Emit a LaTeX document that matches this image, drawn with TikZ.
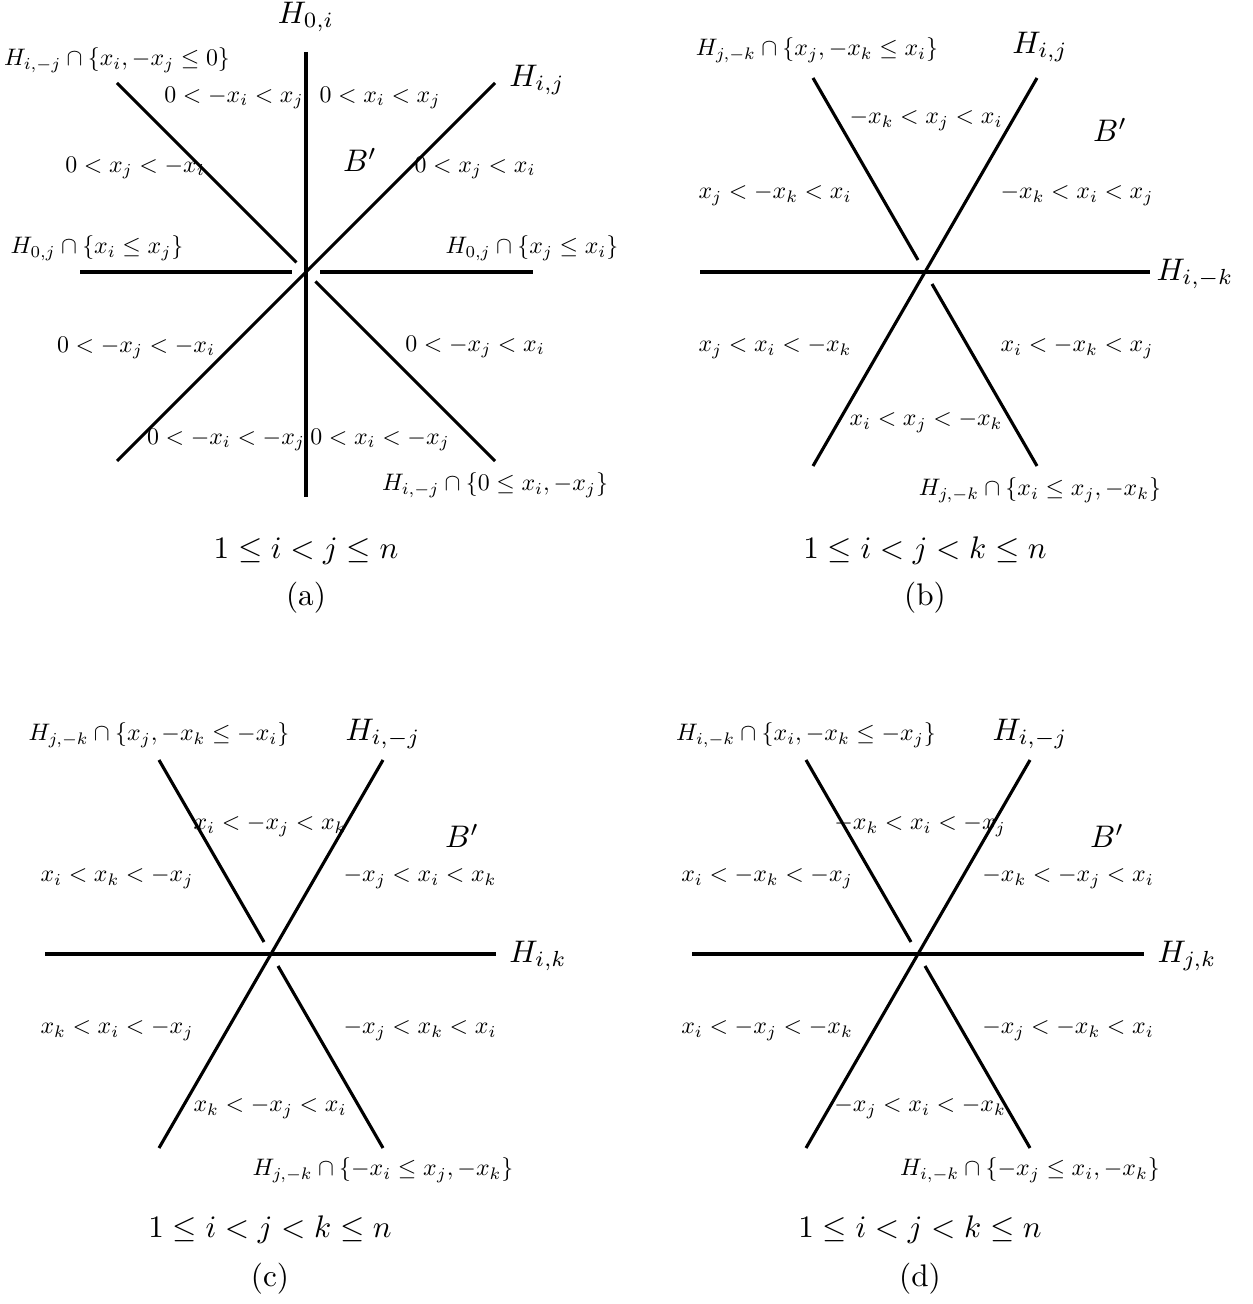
\documentclass[tikz,border=0pt]{standalone}
\begin{document}
\begin{tikzpicture}[x=0.3205pt,y=-0.3205pt,
  ln/.style={line width=1pt},
  sm/.style={font=\normalsize, inner sep=0pt, scale=0.765},
  lg/.style={font=\normalsize, inner sep=0pt}]
\useasboundingbox (0,0) rectangle (1252,1304);

% ---------------- panel (a) ----------------
\coordinate (aVt) at (306,52);  \coordinate (aVb) at (306,497);
\coordinate (aDt) at (495,83);  \coordinate (aDb) at (117,461);
\coordinate (aAt) at (117,83);  \coordinate (aAm) at (296.5,262.5);
\coordinate (aAn) at (315.5,281.5); \coordinate (aAb) at (495,461);
\coordinate (aHl) at (80,272);  \coordinate (aHm) at (292,272);
\coordinate (aHn) at (320,272); \coordinate (aHr) at (533,272);
\draw[ln] (aVt) -- (aVb);
\draw[ln] (aDt) -- (aDb);
\draw[ln] (aAt) -- (aAm);
\draw[ln] (aAn) -- (aAb);
\draw[ln] (aHl) -- (aHm);
\draw[ln] (aHn) -- (aHr);

\node[lg] (aH0i) at (306,17) {$H_{0,i}$};
\node[lg] (aHij) at (537,80) {$H_{i,j}$};
\node[lg] (aB) at (360,160) {$B'$};
\node[sm] (aL1) at (117,60) {$H_{i,-j}\cap\{x_i,-x_j\le 0\}$};
\node[sm] (aL2) at (234,98) {$0<-x_i<x_j$};
\node[sm] (aL3) at (380,98) {$0<x_i<x_j$};
\node[sm] (aL4) at (135,168) {$0<x_j<-x_i$};
\node[sm] (aL5) at (475,168) {$0<x_j<x_i$};
\node[sm] (aL6) at (97,248) {$H_{0,j}\cap\{x_i\le x_j\}$};
\node[sm] (aL7) at (532,248) {$H_{0,j}\cap\{x_j\le x_i\}$};
\node[sm] (aL8) at (136,348) {$0<-x_j<-x_i$};
\node[sm] (aL9) at (475,347) {$0<-x_j<x_i$};
\node[sm] (aL10) at (226,440) {$0<-x_i<-x_j$};
\node[sm] (aL11) at (380,440) {$0<x_i<-x_j$};
\node[sm] (aL12) at (495,485) {$H_{i,-j}\cap\{0\le x_i,-x_j\}$};
\node[lg] (aC) at (306,551) {$1\le i<j\le n$};
\node[lg] (aT) at (306,598) {(a)};

% ---------------- panel (b) ----------------
\coordinate (bPt) at (1037,78);  \coordinate (bPb) at (813,466);
\coordinate (bQt) at (813,78);   \coordinate (bQm) at (918,260);
\coordinate (bQn) at (932,284);  \coordinate (bQb) at (1037,466);
\coordinate (bHl) at (700,272);  \coordinate (bHr) at (1150,272);
\draw[ln] (bPt) -- (bPb);
\draw[ln] (bQt) -- (bQm);
\draw[ln] (bQn) -- (bQb);
\draw[ln] (bHl) -- (bHr);

\node[sm] (bL1) at (817,50) {$H_{j,-k}\cap\{x_j,-x_k\le x_i\}$};
\node[lg] (bHij) at (1040,47) {$H_{i,j}$};
\node[sm] (bL2) at (926,120) {$-x_k<x_j<x_i$};
\node[lg] (bB) at (1110,130) {$B'$};
\node[sm] (bL3) at (775,195) {$x_j<-x_k<x_i$};
\node[sm] (bL4) at (1077,195) {$-x_k<x_i<x_j$};
\node[lg] (bHik) at (1195,274) {$H_{i,-k}$};
\node[sm] (bL5) at (775,348) {$x_j<x_i<-x_k$};
\node[sm] (bL6) at (1077,348) {$x_i<-x_k<x_j$};
\node[sm] (bL7) at (926,422) {$x_i<x_j<-x_k$};
\node[sm] (bL8) at (1040,490) {$H_{j,-k}\cap\{x_i\le x_j,-x_k\}$};
\node[lg] (bC) at (925,551) {$1\le i<j<k\le n$};
\node[lg] (bT) at (925,598) {(b)};

% ---------------- panel (c) ----------------
\coordinate (cPt) at (383,760);  \coordinate (cPb) at (159,1148);
\coordinate (cQt) at (159,760);  \coordinate (cQm) at (264,942);
\coordinate (cQn) at (278,966);  \coordinate (cQb) at (383,1148);
\coordinate (cHl) at (45,954);   \coordinate (cHr) at (496,954);
\draw[ln] (cPt) -- (cPb);
\draw[ln] (cQt) -- (cQm);
\draw[ln] (cQn) -- (cQb);
\draw[ln] (cHl) -- (cHr);

\node[sm] (cL1) at (159,735) {$H_{j,-k}\cap\{x_j,-x_k\le -x_i\}$};
\node[lg] (cHij) at (383,734) {$H_{i,-j}$};
\node[sm] (cL2) at (270,826) {$x_i<-x_j<x_k$};
\node[lg] (cB) at (462,836) {$B'$};
\node[sm] (cL3) at (117,878) {$x_i<x_k<-x_j$};
\node[sm] (cL4) at (420,878) {$-x_j<x_i<x_k$};
\node[lg] (cHik) at (538,956) {$H_{i,k}$};
\node[sm] (cL5) at (117,1030) {$x_k<x_i<-x_j$};
\node[sm] (cL6) at (420,1030) {$-x_j<x_k<x_i$};
\node[sm] (cL7) at (270,1108) {$x_k<-x_j<x_i$};
\node[sm] (cL8) at (383,1170) {$H_{j,-k}\cap\{-x_i\le x_j,-x_k\}$};
\node[lg] (cC) at (270,1230) {$1\le i<j<k\le n$};
\node[lg] (cT) at (270,1279) {(c)};

% ---------------- panel (d) ----------------
\coordinate (dPt) at (1030,760);  \coordinate (dPb) at (806,1148);
\coordinate (dQt) at (806,760);   \coordinate (dQm) at (911,942);
\coordinate (dQn) at (925,966);   \coordinate (dQb) at (1030,1148);
\coordinate (dHl) at (692,954);   \coordinate (dHr) at (1144,954);
\draw[ln] (dPt) -- (dPb);
\draw[ln] (dQt) -- (dQm);
\draw[ln] (dQn) -- (dQb);
\draw[ln] (dHl) -- (dHr);

\node[sm] (dL1) at (806,735) {$H_{i,-k}\cap\{x_i,-x_k\le -x_j\}$};
\node[lg] (dHij) at (1030,734) {$H_{i,-j}$};
\node[sm] (dL2) at (920,826) {$-x_k<x_i<-x_j$};
\node[lg] (dB) at (1107,836) {$B'$};
\node[sm] (dL3) at (767,878) {$x_i<-x_k<-x_j$};
\node[sm] (dL4) at (1068,878) {$-x_k<-x_j<x_i$};
\node[lg] (dHjk) at (1187,956) {$H_{j,k}$};
\node[sm] (dL5) at (767,1030) {$x_i<-x_j<-x_k$};
\node[sm] (dL6) at (1068,1030) {$-x_j<-x_k<x_i$};
\node[sm] (dL7) at (920,1108) {$-x_j<x_i<-x_k$};
\node[sm] (dL8) at (1030,1170) {$H_{i,-k}\cap\{-x_j\le x_i,-x_k\}$};
\node[lg] (dC) at (920,1230) {$1\le i<j<k\le n$};
\node[lg] (dT) at (920,1279) {(d)};
\end{tikzpicture}
\end{document}
